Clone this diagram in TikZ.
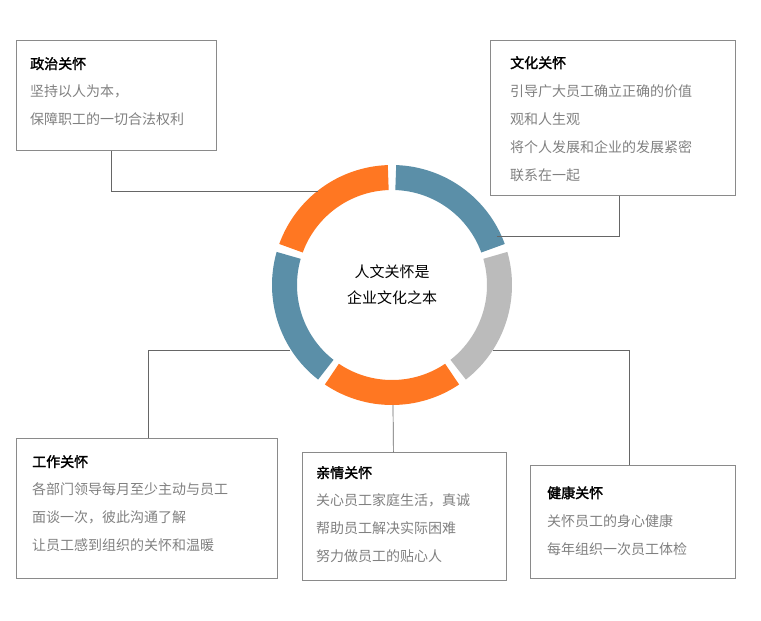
\documentclass[tikz,border=0pt]{standalone}
\usepackage{fontspec}
\setmainfont{Noto Sans CJK SC}[AutoFakeBold=2]
\usetikzlibrary{positioning}
\definecolor{ringblue}{HTML}{5B8FA8}
\definecolor{ringorange}{HTML}{FF7722}
\definecolor{ringgray}{HTML}{BBBBBB}
\definecolor{bodygray}{HTML}{808080}
\definecolor{framegray}{HTML}{8A8A8A}
\begin{document}
\begin{tikzpicture}[x=1pt, y=-1pt,
  card/.style={draw=framegray, line width=0.8pt, rectangle, anchor=north west, inner sep=0},
  words/.style={anchor=north west, inner sep=0, align=left, font=\fontsize{14}{28}\selectfont, text=bodygray},
  link/.style={draw=black!60, line width=0.7pt}]
  \useasboundingbox (0,0) rectangle (761,621);
  % boxes
  \node[card, minimum width=200, minimum height=110] (zz) at (16,40) {};
  \node[card, minimum width=245, minimum height=155] (wh) at (490,40) {};
  \node[card, minimum width=261, minimum height=140] (gz) at (16,438) {};
  \node[card, minimum width=204, minimum height=128] (qq) at (302,452) {};
  \node[card, minimum width=205, minimum height=113] (jk) at (530,465) {};
  \node[words] (zzt) at (30,57) {\textcolor{black}{\bfseries 政治关怀}\\坚持以人为本，\\保障职工的一切合法权利};
  \node[words] (wht) at (510,56) {\textcolor{black}{\bfseries 文化关怀}\\引导广大员工确立正确的价值\\观和人生观\\将个人发展和企业的发展紧密\\联系在一起};
  \node[words] (gzt) at (32,455) {\textcolor{black}{\bfseries 工作关怀}\\各部门领导每月至少主动与员工\\面谈一次，彼此沟通了解\\让员工感到组织的关怀和温暖};
  \node[words] (qqt) at (316,466) {\textcolor{black}{\bfseries 亲情关怀}\\关心员工家庭生活，真诚\\帮助员工解决实际困难\\努力做员工的贴心人};
  \node[words] (jkt) at (547,486) {\textcolor{black}{\bfseries 健康关怀}\\关怀员工的身心健康\\每年组织一次员工体检};
  % ring
  \begin{scope}[shift={(392,285)}, yscale=-1]
    \foreach \a/\b/\c in {20/88/ringblue, -52/16/ringgray, -124/-56/ringorange, 164/232/ringblue, 92/160/ringorange}
      \fill[\c] (\a:120) arc (\a:\b:120) -- (\b:95) arc (\b:\a:95) -- cycle;
  \end{scope}
  \node[align=center, font=\fontsize{15}{26}\selectfont] (core) at (392,285) {人文关怀是\\企业文化之本};
  % connectors
  \coordinate (pzz) at (318,191);
  \coordinate (pwh) at (497,236);
  \coordinate (pgz) at (290,350);
  \coordinate (pqq) at (393,405);
  \coordinate (pjk) at (493,350);
  \draw[link] ([xshift=-5]zz.south) |- (pzz);
  \draw[link] ([xshift=6]wh.south) |- (pwh);
  \draw[link] ([xshift=1.5]gz.north) |- (pgz);
  \draw[link] ([xshift=-11]qq.north) -- (pqq);
  \draw[link] ([xshift=-4]jk.north) |- (pjk);
\end{tikzpicture}
\end{document}
